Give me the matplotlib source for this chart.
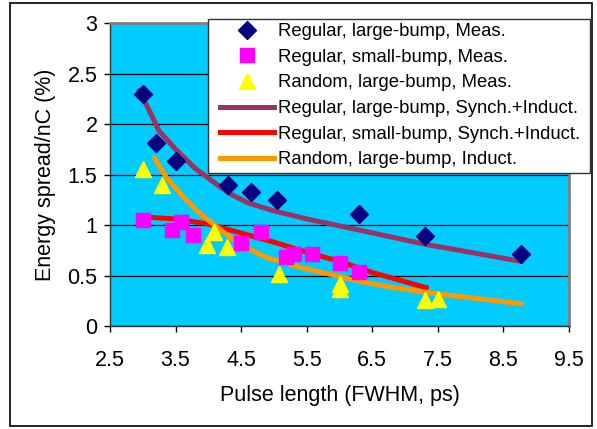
import numpy as np
import matplotlib
matplotlib.use("Agg")
from matplotlib import pyplot as plt
from matplotlib.patches import Rectangle
from matplotlib.ticker import FormatStrFormatter

plt.rcParams['font.family'] = ['Liberation Sans', 'DejaVu Sans']

# measured points
reg_large_x = [3.0, 3.2, 3.5, 4.3, 4.65, 5.04, 6.3, 7.3, 8.77]
reg_large_y = [2.30, 1.81, 1.63, 1.40, 1.33, 1.25, 1.11, 0.89, 0.71]

reg_small_x = [3.0, 3.44, 3.58, 3.77, 4.5, 4.8, 5.19, 5.3, 5.58, 6.0, 6.3]
reg_small_y = [1.05, 0.95, 1.03, 0.90, 0.82, 0.93, 0.68, 0.71, 0.71, 0.62, 0.53]

rnd_large_x = [3.0, 3.3, 3.98, 4.08, 4.28, 5.07, 6.0, 6.0, 7.3, 7.5]
rnd_large_y = [1.55, 1.40, 0.80, 0.93, 0.78, 0.51, 0.42, 0.37, 0.26, 0.27]

# simulation curves
sim_reg_large_x = [2.95, 3.25, 3.5, 3.8, 4.3, 4.6, 5.0, 5.5, 6.3, 7.3, 8.77]
sim_reg_large_y = [2.33, 1.93, 1.75, 1.56, 1.32, 1.22, 1.14, 1.06, 0.95, 0.81, 0.64]

sim_reg_small_x = [3.0, 3.5, 4.0, 4.5, 5.0, 5.5, 6.0, 6.5, 7.32]
sim_reg_small_y = [1.08, 1.06, 1.01, 0.92, 0.83, 0.73, 0.64, 0.53, 0.38]

sim_rnd_large_x = [3.18, 3.35, 3.6, 3.86, 4.09, 4.37, 4.63, 4.88, 5.4, 5.81, 6.32, 6.83, 7.35, 7.86, 8.77]
sim_rnd_large_y = [1.66, 1.48, 1.29, 1.12, 1.0, 0.86, 0.76, 0.68, 0.58, 0.52, 0.44, 0.38, 0.33, 0.29, 0.22]

labels = ["Regular, large-bump, Meas.",
          "Regular, small-bump, Meas.",
          "Random, large-bump, Meas.",
          "Regular, large-bump, Synch.+Induct.",
          "Regular, small-bump, Synch.+Induct.",
          "Random, large-bump, Induct."]

W, H = 597.0, 429.0
fig = plt.figure(figsize=(W/100, H/100), dpi=100)
ax = fig.add_axes([110/W, 1-326/H, (569-110)/W, (326-23)/H])
ax.set_facecolor('#00CCFF')

# outer frame of the chart
fig.patches.append(Rectangle((10/W, 3/H), 582/W, 423/H, transform=fig.transFigure,
                             fill=False, edgecolor='black', lw=1.2))
# legend box (drawn by hand so the padding matches)
fig.patches.append(Rectangle((208/W, 1-173/H), (590-208)/W, (173-19)/H, transform=fig.transFigure,
                             facecolor='white', edgecolor='#333333', lw=1, zorder=2))

ax.plot(reg_large_x, reg_large_y, 'D', color='#000080', ms=9, ls='none', label=labels[0], zorder=4)
ax.plot(reg_small_x, reg_small_y, 's', color='#FF00FF', ms=10.5, ls='none', label=labels[1], zorder=4)
ax.plot(rnd_large_x, rnd_large_y, '^', color='#FFFF00', ms=11, ls='none', label=labels[2], zorder=4)
ax.plot(sim_reg_large_x, sim_reg_large_y, '-', color='#993366', lw=3.6, label=labels[3], zorder=3)
ax.plot(sim_reg_small_x, sim_reg_small_y, '-', color='#FF0000', lw=3.6, label=labels[4], zorder=3)
ax.plot(sim_rnd_large_x, sim_rnd_large_y, '-', color='#FF9900', lw=3.6, label=labels[5], zorder=3)

ax.set_xlim(2.5, 9.5)
ax.set_ylim(0, 3)
ax.set_xticks(np.arange(2.5, 9.6, 1.0))
ax.set_yticks(np.arange(0, 3.01, 0.5))
ax.xaxis.set_major_formatter(FormatStrFormatter('%.1f'))
ax.yaxis.set_major_formatter(FormatStrFormatter('%g'))
ax.yaxis.grid(True, color='black', lw=0.9)
ax.set_axisbelow(True)
ax.tick_params(axis='both', direction='out', length=4, width=1, labelsize=15.5, colors='black')
ax.tick_params(axis='x', pad=13)
ax.tick_params(axis='y', pad=5)

for s in ['left', 'bottom']:
    ax.spines[s].set_color('#333333')
    ax.spines[s].set_linewidth(1)
for s in ['top', 'right']:
    ax.spines[s].set_color('#808080')
    ax.spines[s].set_linewidth(2)

ax.set_xlabel("Pulse length (FWHM, ps)", fontsize=15.5, labelpad=10)
ax.set_ylabel("Energy spread/nC (%)", fontsize=15.5, labelpad=8)

handles, labs = ax.get_legend_handles_labels()
leg = fig.legend(handles, labs, loc='upper left', bbox_to_anchor=(220/W, 1-23/H),
                 bbox_transform=fig.transFigure, fontsize=13.3, frameon=False,
                 handlelength=2.95, handletextpad=0.2, labelspacing=0.47,
                 borderpad=0, borderaxespad=0)

fig.savefig("out.png", dpi=100)
